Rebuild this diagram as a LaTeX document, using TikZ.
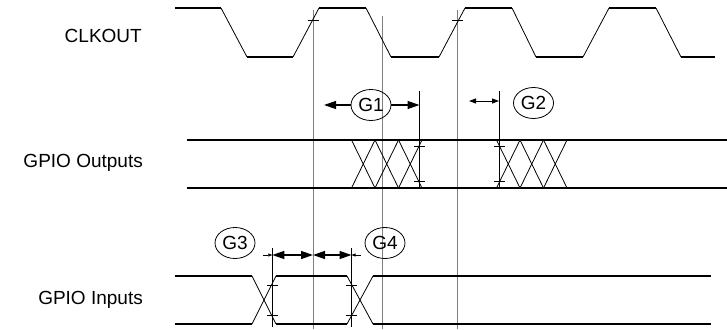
\documentclass[tikz,border=0pt]{standalone}
\usepackage{fontspec}
\setmainfont{Liberation Sans}
\usetikzlibrary{arrows.meta,shapes.geometric}
\begin{document}
\begin{tikzpicture}[x=1pt,y=-1pt,
  lvl/.style={line width=1.6pt},
  edge/.style={line width=0.8pt},
  guide/.style={line width=0.9pt,draw=black!50},
  marker/.style={line width=0.8pt},
  lbl/.style={font=\fontsize{19}{22}\selectfont,anchor=base east,inner sep=0pt},
  gtag/.style={ellipse,draw,line width=0.8pt,minimum width=40pt,minimum height=31pt,inner sep=0pt,font=\fontsize{19}{22}\selectfont},
  bigarr/.style={line width=1.3pt,-{Triangle[length=12pt,width=8pt]}},
  dblarr/.style={line width=1.3pt,{Triangle[length=12pt,width=8pt]}-{Triangle[length=12pt,width=8pt]}},
  smallarr/.style={line width=0.6pt,-{Triangle[length=4pt,width=3pt]}}
]
\useasboundingbox (0,0) rectangle (727,329);

% labels
\node[lbl] (lclk) at (142,42.5) {CLKOUT};
\node[lbl] (lout) at (143,167.5) {GPIO Outputs};
\node[lbl] (lin)  at (143,304) {GPIO Inputs};

% gray guide lines
\draw[guide] (313,10) -- (313,329);
\draw[guide] (382.3,16) -- (382.3,329);
\draw[guide] (457.5,10) -- (457.5,329);

% CLKOUT
\foreach \a/\b in {175/221,319/366,465/512,609/656} \draw[lvl] (\a,8) -- (\b,8);
\foreach \a/\b in {247/293,391/439,536/583,681/715} \draw[lvl] (\a,57) -- (\b,57);
\draw[edge] (221,8) -- (247,57);
\draw[edge] (293,57) -- (319,8);
\draw[edge] (366,8) -- (391,57);
\draw[edge] (439,57) -- (465,8);
\draw[edge] (512,8) -- (536,57);
\draw[edge] (583,57) -- (609,8);
\draw[edge] (656,8) -- (681,57);
\draw[marker] (307.5,20.5) -- (318.5,20.5);
\draw[marker] (452,20.5) -- (463,20.5);

% GPIO Outputs
\draw[lvl] (187,140) -- (727,140);
\draw[lvl] (187,188) -- (727,188);
\foreach \s in {351.5,375,398.5,496.5,520,543.5} {
  \draw[edge] (\s,140) -- ({\s+23.5},188);
  \draw[edge] (\s,188) -- ({\s+23.5},140);
}
% G1
\coordinate (g1top) at (419.5,91);
\coordinate (g1bot) at (419.5,188);
\draw[marker] (g1top) -- (g1bot);
\draw[marker] (414,146.5) -- (425,146.5);
\draw[marker] (414,181) -- (425,181);
\node[gtag] (G1) at (371,105) {G1};
\coordinate (g1l) at (324,105);
\coordinate (g1r) at (419.5,105);
\draw[bigarr] (G1.west) -- (g1l);
\draw[bigarr] (G1.east) -- (g1r);
% G2
\coordinate (g2top) at (499,91);
\coordinate (g2bot) at (499,188);
\draw[marker] (g2top) -- (g2bot);
\draw[marker] (493.5,146.5) -- (504.5,146.5);
\draw[marker] (493.5,181) -- (504.5,181);
\node[gtag] (G2) at (533.5,103) {G2};
\coordinate (g2a) at (469,101);
\coordinate (g2b) at (499,101);
\draw[line width=1pt,{Triangle[length=7pt,width=5pt]}-{Triangle[length=7pt,width=5pt]}] (g2a) -- (g2b);

% GPIO Inputs
\draw[lvl] (175,276) -- (252,276);
\draw[lvl] (175,324) -- (252,324);
\draw[edge] (252,276) -- (276,324);
\draw[edge] (252,324) -- (276,276);
\draw[lvl] (276,276) -- (347,276);
\draw[lvl] (276,324) -- (347,324);
\draw[edge] (347,276) -- (373,324);
\draw[edge] (347,324) -- (373,276);
\draw[lvl] (373,276) -- (711,276);
\draw[lvl] (373,324) -- (711,324);

\draw[marker] (272.3,248) -- (272.3,327);
\draw[marker] (267,285) -- (277.5,285);
\draw[marker] (267,315) -- (277.5,315);
\draw[marker] (351.5,248) -- (351.5,327);
\draw[marker] (346,285) -- (356.5,285);
\draw[marker] (346,315) -- (356.5,315);

\node[gtag] (G3) at (235,243) {G3};
\node[gtag] (G4) at (385,243) {G4};
\coordinate (ia) at (272.3,255);
\coordinate (ib) at (313,255);
\coordinate (ic) at (351.5,255);
\coordinate (iao) at (263,255);
\coordinate (ico) at (361,255);
\draw[dblarr] (ia) -- (ib);
\draw[dblarr] (ib) -- (ic);
\draw[smallarr] (iao) -- (ia);
\draw[smallarr] (ico) -- (ic);
\end{tikzpicture}
\end{document}
